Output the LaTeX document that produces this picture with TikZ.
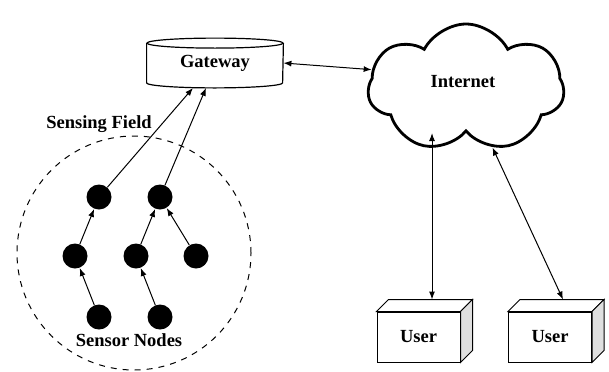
\documentclass[tikz,border=0pt]{standalone}
\usepackage{fontspec}
\setmainfont{Liberation Serif}
\usetikzlibrary{shapes.symbols}
\usetikzlibrary{arrows.meta}

\begin{document}
\begin{tikzpicture}[x=0.5pt,y=0.5pt,
    >={Latex[length=4pt,width=3pt]},
    lbl/.style={font=\fontsize{9.25}{11}\selectfont\bfseries},
    sensor/.style={circle,fill=black,minimum size=12.5pt,inner sep=0pt},
    link/.style={->,line width=0.5pt},
    userbox/.style={draw,fill=white,line width=0.5pt,minimum width=41.5pt,minimum height=25pt,inner sep=0pt,lbl}]
    \useasboundingbox (0,0) rectangle (609,371);

    % 网关
    \node[lbl,minimum width=68pt,minimum height=19.5pt,inner sep=0pt] (gw) at (215,308) {Gateway};
    \draw[line width=0.6pt] (gw.north west) -- (gw.south west) arc[start angle=180,end angle=360,x radius=34pt,y radius=2.5pt] -- (gw.north east);
    \draw[line width=0.6pt] (gw.north) ellipse [x radius=34pt,y radius=2.5pt];

    % 互联网云
    \node[cloud,draw,line width=1.4pt,cloud puffs=7,cloud puff arc=125,aspect=1.5,minimum width=98pt,minimum height=64pt,lbl] (net) at (466,283) {};
    \node[lbl] (nettxt) at (463,289) {Internet};

    % 感知区域
    \draw[dashed,line width=0.5pt] (134,118) circle [radius=58.5pt];
    \node[lbl] (field) at (99,247) {Sensing Field};
    \node[lbl] (sn) at (129,31) {Sensor Nodes};

    % 传感器节点
    \node[sensor] (a) at (99,174) {};
    \node[sensor] (b) at (160,174) {};
    \node[sensor] (c) at (75,115) {};
    \node[sensor] (d) at (136,115) {};
    \node[sensor] (e) at (196,115) {};
    \node[sensor] (f) at (99,54) {};
    \node[sensor] (g) at (160,54) {};
    \draw[link] (f) -- (c);
    \draw[link] (c) -- (a);
    \draw[link] (g) -- (d);
    \draw[link] (d) -- (b);
    \draw[link] (e) -- (b);
    \draw[link] (a) -- ([shift={(-22,-5)}]gw.south);
    \draw[link] (b) -- ([shift={(-9,-5)}]gw.south);

    % 用户
    \node[userbox] (u1) at (418.5,34) {User};
    \node[userbox] (u2) at (550,34) {User};
    \foreach \u in {u1,u2}{
      \draw[line width=0.5pt,fill=white] (\u.north west) -- ([shift={(12,12)}]\u.north west) -- ([shift={(12,12)}]\u.north east) -- (\u.north east) -- cycle;
      \draw[line width=0.5pt,fill=gray!25] (\u.north east) -- ([shift={(12,12)}]\u.north east) -- ([shift={(12,12)}]\u.south east) -- (\u.south east) -- cycle;
    }

    % 连接
    \draw[<->,line width=0.5pt] (gw.east) -- (net.169);
    \coordinate (t1) at ([shift={(13.5,12)}]u1.north);
    \coordinate (t2) at ([shift={(13,12)}]u2.north);
    \draw[<->,line width=0.5pt] (t1) -- (t1 |- net.south);
    \draw[<->,line width=0.5pt] (t2) -- (net.294);
\end{tikzpicture}
\end{document}
